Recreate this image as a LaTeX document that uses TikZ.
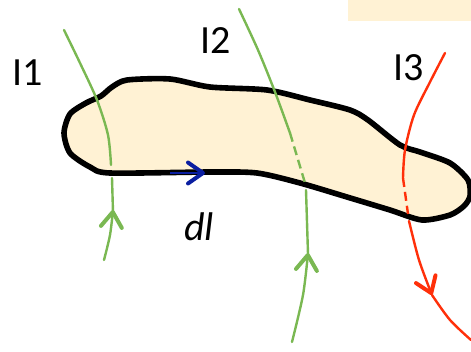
\documentclass[tikz,border=0pt]{standalone}
\usepackage{fontspec}
\setmainfont{Carlito}
\definecolor{loopfill}{RGB}{255,242,212}
\definecolor{wiregreen}{RGB}{122,184,82}
\definecolor{wirered}{RGB}{255,48,10}
\definecolor{dlblue}{RGB}{10,30,160}
\usetikzlibrary{arrows.meta}
\tikzset{
  loopline/.style={draw=black, line width=5.6pt, line join=round, fill=loopfill},
  wirebase/.style={line width=2.4pt, line cap=round},
  wirehid/.style={wirebase, dash pattern=on 9pt off 5pt, line cap=butt},
  wiretip/.style={wirebase, -{Straight Barb[length=15pt, width=21pt, line width=4pt, round]}},
  currentlabel/.style={font=\fontsize{40}{40}\selectfont, inner sep=0pt},
}
\begin{document}
\begin{tikzpicture}[x=1pt, y=-1pt]
  \useasboundingbox (0,0) rectangle (471,351);
  \fill[loopfill] (348,0) rectangle (471,21);

  % the loop
  \draw[loopline] plot[smooth cycle, tension=0.45] coordinates {
    (64,133) (70,114) (86,103) (101,96) (112,87) (127,80) (170,79) (210,87)
    (267,90) (310,100) (350,110) (368,120) (400,145) (420,152) (450,163)
    (468,180) (470,196) (464,206) (450,215) (422,220) (390,210) (347,197)
    (300,183) (257,173) (210,172) (110,173) (90,167) (70,153)};

  % I1
  \draw[wirebase, wiregreen] plot[smooth] coordinates {(64,30) (80,63) (97,100) (108,135) (111,165)};
  \draw[wirebase, wiregreen] (113,212) -- (112,178);
  \draw[wiretip, wiregreen] plot[smooth] coordinates {(104,260) (110,235) (113,210)};

  % I2
  \draw[wirebase, wiregreen] plot[smooth] coordinates {(239,9) (258,50) (275,92) (290,133)};
  \draw[wirehid, wiregreen] (290,133) -- (305,183);
  \draw[wirebase, wiregreen] (306,190) -- (308,254);
  \draw[wiretip, wiregreen] plot[smooth] coordinates {(292,342) (303,295) (308,253)};

  % I3
  \draw[wirebase, wirered] plot[smooth] coordinates {(445,53) (430,82) (414,115) (405,150) (403,178)};
  \draw[wirehid, wirered] (403,178) -- (408,214);
  \draw[wiretip, wirered] plot[smooth] coordinates {(409,221) (419,260) (432,295)};
  \draw[wirebase, wirered] plot[smooth] coordinates {(432,295) (450,320) (471,340)};

  % dl
  \draw[dlblue, line width=2.4pt, -{Straight Barb[length=15pt, width=21pt, line width=4pt, round]}] (170,173) -- (205,173);

  \node[currentlabel] (i1) at (28,73) {I1};
  \node[currentlabel] (i2) at (216,41) {I2};
  \node[currentlabel] (i3) at (409,68) {I3};
  \node[currentlabel, font=\fontsize{40}{40}\selectfont\itshape] (dl) at (199,227) {dl};
\end{tikzpicture}
\end{document}
